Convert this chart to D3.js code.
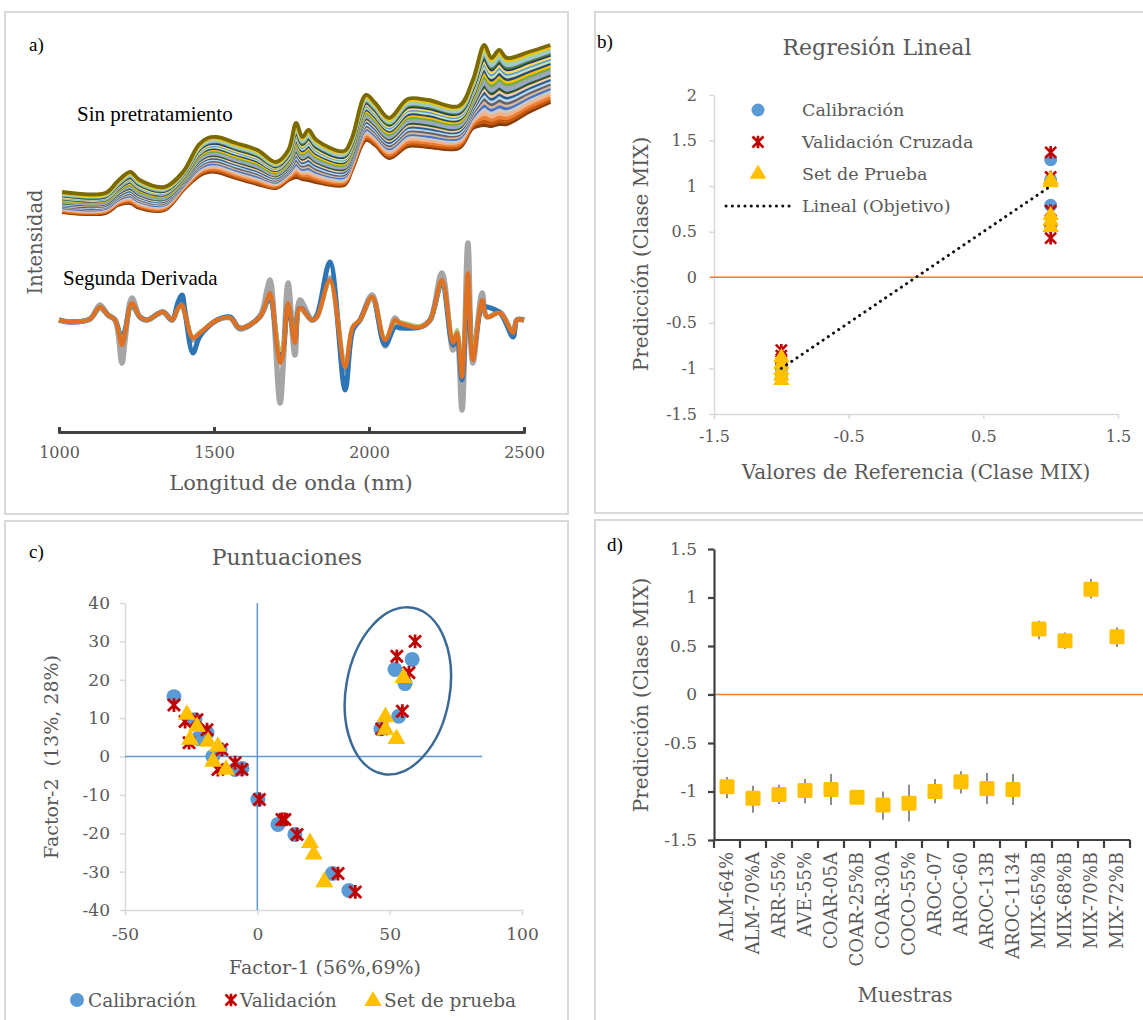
<!DOCTYPE html>
<html>
<head>
<meta charset="utf-8">
<script src="https://cdn.jsdelivr.net/npm/d3@7"></script>
<style>
  body { margin: 0; background: #fff; }
  text { font-family: "DejaVu Serif", serif; }
</style>
</head>
<body>
<div id="chart"></div>
<script>
// a) NIR spectra
let rawWavelength = [1010, 1150, 1190, 1230, 1260, 1340, 1400, 1450, 1480, 1510, 1570, 1640, 1700, 1740, 1765, 1785, 1805, 1830, 1920, 1945, 1990, 2020, 2065, 2125, 2190, 2290, 2335, 2372, 2395, 2420, 2445, 2515, 2585]
let rawTop = [0.28, 0.27, 0.39, 0.48, 0.40, 0.33, 0.48, 0.75, 0.82, 0.83, 0.77, 0.70, 0.58, 0.70, 0.97, 0.83, 0.90, 0.80, 0.69, 0.82, 1.25, 1.17, 1.02, 1.21, 1.20, 1.14, 1.40, 1.75, 1.62, 1.70, 1.62, 1.68, 1.75]
let rawBottom = [0.08, 0.07, 0.15, 0.17, 0.12, 0.10, 0.30, 0.44, 0.48, 0.48, 0.42, 0.36, 0.32, 0.40, 0.43, 0.41, 0.40, 0.38, 0.35, 0.50, 0.80, 0.75, 0.62, 0.74, 0.73, 0.72, 0.92, 0.95, 0.94, 0.96, 0.96, 1.08, 1.18]
// where each sample sits between the lowest and highest spectrum
let rawLevels = [0, 0.04, 0.09, 0.14, 0.19, 0.24, 0.28, 0.32, 0.36, 0.40, 0.44, 0.48, 0.52, 0.56, 0.60, 0.64, 0.68, 0.72, 0.76, 0.79, 0.83, 0.86, 0.89, 0.93, 0.97, 1]

let derivWavelength = [1000, 1035, 1100, 1132, 1158, 1181, 1203, 1213, 1235, 1261, 1284, 1335, 1365, 1384, 1397, 1406, 1432, 1455, 1510, 1552, 1584, 1648, 1671, 1681, 1713, 1723, 1739, 1761, 1777, 1816, 1832, 1874, 1923, 1948, 1971, 2010, 2052, 2084, 2100, 2165, 2197, 2235, 2271, 2284, 2300, 2319, 2335, 2365, 2381, 2423, 2465, 2477, 2500]
let derivOrange = [0, -0.02, 0.01, 0.13, 0.05, 0, -0.25, -0.13, 0.17, 0.03, 0, 0.08, 0, 0.12, 0.15, 0.07, -0.18, -0.13, 0, 0.02, -0.08, 0.03, 0.20, 0.27, -0.43, -0.33, 0.17, -0.23, 0.12, 0, 0.03, 0.40, -0.47, -0.07, 0, 0.23, -0.20, 0, -0.03, -0.07, 0, 0.40, -0.23, -0.13, -0.57, 0.47, -0.40, 0.20, 0.03, 0.07, -0.13, 0, 0]
let derivGray = [0, -0.02, 0.01, 0.15, 0.05, 0, -0.43, -0.2, 0.22, 0.03, 0, 0.08, 0, 0.12, 0.15, 0.07, -0.2, -0.14, 0, 0.02, -0.09, 0.04, 0.30, 0.40, -0.83, -0.45, 0.37, -0.35, 0.2, 0, 0.03, 0.42, -0.5, -0.08, 0, 0.25, -0.26, 0.02, -0.04, -0.07, 0, 0.47, -0.3, -0.15, -0.9, 0.77, -0.43, 0.27, 0.03, 0.08, -0.14, 0, 0]
let derivBlue = [0, -0.02, 0.01, 0.12, 0.05, 0, -0.2, -0.1, 0.15, 0.03, 0, 0.08, 0, 0.18, 0.25, 0.1, -0.33, -0.16, 0, 0.03, -0.08, 0.03, 0.18, 0.24, -0.38, -0.3, 0.15, -0.2, 0.12, 0, 0.05, 0.58, -0.7, -0.1, 0, 0.22, -0.25, -0.07, -0.08, -0.07, 0, 0.37, -0.25, -0.2, -0.6, 0.3, -0.35, 0.13, 0.13, 0.07, -0.17, 0, 0]
let derivGreen = [0, -0.02, 0.01, 0.12, 0.05, 0, -0.22, -0.12, 0.16, 0.03, 0, 0.08, 0, 0.11, 0.14, 0.07, -0.17, -0.12, 0, 0.02, -0.08, 0.03, 0.19, 0.25, -0.3, -0.25, 0.16, -0.18, 0.11, 0, 0.03, 0.38, -0.44, -0.06, 0, 0.22, -0.18, -0.02, -0.02, -0.06, 0, 0.38, -0.2, -0.1, -0.45, 0.42, -0.3, 0.18, 0.04, 0.07, -0.12, 0, 0]
let waveTicks = [1000, 1500, 2000, 2500]

// b) linear regression
let calRef = [-1, -1, -1, -1, -1, 1, 1, 1, 1]
let calPred = [-0.92, -0.97, -1.0, -1.05, -1.1, 1.29, 1.07, 0.79, 0.56]
let cvRef = [-1, -1, -1, -1, 1, 1, 1, 1, 1]
let cvPred = [-0.8, -0.86, -0.92, -1.0, 1.37, 1.1, 0.73, 0.62, 0.43]
let testRef = [-1, -1, -1, -1, -1, 1, 1, 1, 1, 1]
let testPred = [-0.88, -0.95, -1.02, -1.08, -1.13, 1.07, 1.04, 0.68, 0.62, 0.55]
let targetLine = [[-1, -1], [1, 1]]
let regLegend = ["Calibración", "Validación Cruzada", "Set de Prueba", "Lineal (Objetivo)"]

// c) scores
let calScores = [[-31.5, 15.6], [-23.6, 9.6], [-19, 6.2], [-14.1, 1.8], [-8.4, -3.4], [-5.8, -3.1], [-22.4, 4.7], [-16.8, 0], [0.2, -11.2], [7.8, -17.7], [14.2, -20.3], [28.4, -30.5], [34.6, -34.9], [52, 22.7], [58.5, 25.3], [55.8, 19], [53.4, 10.5], [46.7, 7.2]]
let cvScores = [[-31.5, 13.4], [-27.3, 9.1], [-22.8, 9.6], [-19, 7], [-25.8, 3.6], [-13.4, 1.8], [-14.9, -3.4], [-8.4, -1.6], [-5.8, -3.4], [0.8, -11.2], [9.3, -16.4], [10.4, -16.4], [15, -20.3], [30.5, -30.5], [37, -35.3], [52.7, 26.1], [59.6, 30], [57.3, 21.8], [54.8, 11.8], [47, 7.2]]
let testScores = [[-26.6, 10.9], [-22.8, 7.8], [-25.4, 4.4], [-18.6, 3.9], [-14.9, 2.6], [-16.7, -1.3], [-11.8, -3.4], [19.9, -22.5], [21.3, -25.5], [25.3, -32.7], [55.2, 20.5], [48.4, 10.3], [48.4, 7], [52.6, 4.6]]
let mixGroup = { cx: 53.1, cy: 17.1, rx: 19.6, ry: 22 }
let scoreLegend = ["Calibración", "Validación", "Set de prueba"]

// d) predictions per sample
let sampleNames = ["ALM-64%", "ALM-70%A", "ARR-55%", "AVE-55%", "COAR-05A", "COAR-25%B", "COAR-30A", "COCO-55%", "AROC-07", "AROC-60", "AROC-13B", "AROC-1134", "MIX-65%B", "MIX-68%B", "MIX-70%B", "MIX-72%B"]
let samplePred = [-0.95, -1.07, -1.03, -0.99, -0.98, -1.06, -1.14, -1.12, -1.0, -0.9, -0.97, -0.98, 0.675, 0.555, 1.085, 0.595]
let sampleLow = [-1.07, -1.22, -1.13, -1.12, -1.14, -1.1, -1.29, -1.31, -1.12, -1.02, -1.13, -1.14, 0.57, 0.47, 0.99, 0.49]
let sampleHigh = [-0.85, -0.94, -0.93, -0.87, -0.82, -1.02, -1.0, -0.93, -0.87, -0.79, -0.81, -0.82, 0.76, 0.64, 1.19, 0.69]

let svgWidth = 1143
let svgHeight = 1020
let grey = "#595959"
let blue = "#5b9bd5", red = "#c00000", gold = "#ffc000", orange = "#ed7d31"

renderFigure()

function starPath(s) {
  return `M${-s},${-s}L${s},${s}M${-s},${s}L${s},${-s}M0,${-s * 1.15}L0,${s * 1.15}`
}

function styleAxis(g, color, width, size) {
  g.select(".domain").attr("stroke", color).attr("stroke-width", width)
  g.selectAll(".tick line").attr("stroke", color).attr("stroke-width", width)
  g.selectAll(".tick text").attr("fill", grey).style("font-size", size + "px")
}

function renderFigure() {
  let svg = d3.select("#chart").append("svg")
    .attr("width", svgWidth)
    .attr("height", svgHeight)
  svg.append("rect").attr("width", svgWidth).attr("height", svgHeight).attr("fill", "#fff")
  svg.append("defs").append("filter").attr("id", "soft")
    .append("feGaussianBlur").attr("stdDeviation", 0.75)

  // panel frames
  let frames = [[5, 12, 563, 502], [595, 12, 560, 501], [5, 521, 563, 510], [595, 520, 560, 510]]
  svg.selectAll("rect.frame").data(frames).enter().append("rect")
    .attr("class", "frame")
    .attr("x", d => d[0]).attr("y", d => d[1])
    .attr("width", d => d[2]).attr("height", d => d[3])
    .attr("fill", "none").attr("stroke", "#d9d9d9").attr("stroke-width", 2)

  panelA(svg)
  panelB(svg)
  panelC(svg)
  panelD(svg)
}

function panelA(svg) {
  let g = svg.append("g")
  let xWave = d3.scaleLinear().domain([1000, 2500]).range([59, 524])
  let yRaw = d3.scaleLinear().domain([0, 2]).range([220, 20])
  let yDer = d3.scaleLinear().domain([-1, 1]).range([420, 220])

  let rawColors = ["#843c0c", "#c55a11", "#ed7d31", "#f4b183", "#c9c9c9", "#4472c4", "#d6b7a0", "#636363", "#bdd7ee", "#255e91",
    "#f8cbad", "#385723", "#8faadc", "#a5a5a5", "#70ad47", "#ffc000", "#264478", "#c5e0b4", "#5b9bd5", "#ffd966",
    "#1f3864", "#548235", "#9dc3e6", "#a9d18e", "#ffc000", "#7a6a00"]

  let rawLine = d3.line()
    .x(d => xWave(d[0])).y(d => yRaw(d[1]))
    .curve(d3.curveCatmullRom)

  let spectra = rawLevels.map(t => rawWavelength.map((w, i) => [w, rawBottom[i] + t * (rawTop[i] - rawBottom[i])]))
  g.append("g").attr("filter", "url(#soft)")
    .selectAll("path").data(spectra).enter().append("path")
      .attr("d", rawLine)
      .attr("fill", "none")
      .attr("stroke", (d, i) => rawColors[i])
      .attr("stroke-width", 3.9)
      .attr("stroke-linejoin", "round")

  let derivLine = d3.line()
    .x(d => xWave(d[0])).y(d => yDer(d[1]))
    .curve(d3.curveCatmullRom)
  let derivSeries = [
    { v: derivGray, c: "#a5a5a5", w: 5.5 },
    { v: derivBlue, c: "#2e75b6", w: 5 },
    { v: derivGreen, c: "#a9c77a", w: 4 },
    { v: derivOrange, c: "#e07020", w: 4.2 }
  ]
  g.append("g").attr("filter", "url(#soft)")
    .selectAll("path").data(derivSeries).enter().append("path")
      .attr("d", s => derivLine(derivWavelength.map((w, i) => [w, s.v[i]])))
      .attr("fill", "none")
      .attr("stroke", s => s.c)
      .attr("stroke-width", s => s.w)
      .attr("stroke-linejoin", "round")

  let ax = g.append("g")
    .attr("transform", "translate(0,432)")
    .call(d3.axisBottom(xWave).tickValues(waveTicks).tickFormat(d3.format("d")).tickSize(-5).tickSizeOuter(0))
  styleAxis(ax, "#404040", 3, 16)
  ax.select(".domain").attr("stroke-linecap", "round")
  ax.selectAll(".tick text").attr("y", 15)

  g.append("text").attr("x", 291).attr("y", 490).attr("text-anchor", "middle")
    .attr("fill", grey).style("font-size", "21px").text("Longitud de onda (nm)")
  g.append("text").attr("transform", "translate(42,242) rotate(-90)").attr("text-anchor", "middle")
    .attr("fill", grey).style("font-size", "19.5px").text("Intensidad")
  g.append("text").attr("x", 29).attr("y", 51)
    .style("font-family", "Liberation Serif").style("font-size", "19px").text("a)")
  g.append("text").attr("x", 77).attr("y", 121)
    .style("font-family", "Liberation Serif").style("font-size", "21px").text("Sin pretratamiento")
  g.append("text").attr("x", 63).attr("y", 285)
    .style("font-family", "Liberation Serif").style("font-size", "21px").text("Segunda Derivada")
}

function panelB(svg) {
  let g = svg.append("g")
  let xReg = d3.scaleLinear().domain([-1.5, 1.5]).range([714, 1118])
  let yReg = d3.scaleLinear().domain([-1.5, 2]).range([414, 95])

  let ay = g.append("g").attr("transform", "translate(714,0)")
    .call(d3.axisLeft(yReg).tickValues([-1.5, -1, -0.5, 0, 0.5, 1, 1.5, 2]).tickFormat(String).tickSize(5).tickSizeOuter(0).tickPadding(12))
  styleAxis(ay, "#d9d9d9", 1.5, 16)
  let ax = g.append("g").attr("transform", "translate(0,414)")
    .call(d3.axisBottom(xReg).tickValues([-1.5, -0.5, 0.5, 1.5]).tickFormat(String).tickSize(5).tickSizeOuter(0))
  styleAxis(ax, "#d9d9d9", 1.5, 16)
  ax.selectAll(".tick text").attr("y", 17)

  g.append("line").attr("x1", 710).attr("x2", 1143)
    .attr("y1", yReg(0)).attr("y2", yReg(0))
    .attr("stroke", orange).attr("stroke-width", 1.5)

  g.append("g").selectAll("circle").data(d3.zip(calRef, calPred)).enter().append("circle")
    .attr("cx", d => xReg(d[0])).attr("cy", d => yReg(d[1])).attr("r", 6.5).attr("fill", blue)
  g.append("g").selectAll("path").data(d3.zip(cvRef, cvPred)).enter().append("path")
    .attr("transform", d => `translate(${xReg(d[0])},${yReg(d[1])})`)
    .attr("d", starPath(5.5)).attr("stroke", red).attr("stroke-width", 2.6).attr("fill", "none")
  g.append("g").selectAll("path").data(d3.zip(testRef, testPred)).enter().append("path")
    .attr("transform", d => `translate(${xReg(d[0])},${yReg(d[1])})`)
    .attr("d", d3.symbol(d3.symbolTriangle, 120)).attr("fill", gold)

  g.append("path")
    .attr("d", d3.line().x(d => xReg(d[0])).y(d => yReg(d[1]))(targetLine))
    .attr("stroke", "#111").attr("stroke-width", 3).attr("stroke-dasharray", "0.1 6.2")
    .attr("stroke-linecap", "round").attr("fill", "none")

  // legend
  let ly = [110, 142, 174, 206]
  let leg = g.append("g")
  leg.append("circle").attr("cx", 758).attr("cy", ly[0]).attr("r", 6.5).attr("fill", blue)
  leg.append("path").attr("transform", `translate(758,${ly[1]})`).attr("d", starPath(5.5))
    .attr("stroke", red).attr("stroke-width", 2.6).attr("fill", "none")
  leg.append("path").attr("transform", `translate(758,${ly[2]})`).attr("d", d3.symbol(d3.symbolTriangle, 120)).attr("fill", gold)
  leg.append("line").attr("x1", 726).attr("x2", 790).attr("y1", ly[3]).attr("y2", ly[3])
    .attr("stroke", "#111").attr("stroke-width", 3).attr("stroke-dasharray", "0.1 6.2").attr("stroke-linecap", "round")
  leg.selectAll("text").data(regLegend).enter().append("text")
    .attr("x", 802).attr("y", (d, i) => ly[i] + 6)
    .attr("fill", grey).style("font-size", "17.5px").text(d => d)

  g.append("text").attr("x", 877).attr("y", 55).attr("text-anchor", "middle")
    .attr("fill", grey).style("font-size", "22px").text("Regresión Lineal")
  g.append("text").attr("x", 916).attr("y", 479).attr("text-anchor", "middle")
    .attr("fill", grey).style("font-size", "20px").text("Valores de Referencia (Clase MIX)")
  g.append("text").attr("transform", "translate(648,254) rotate(-90)").attr("text-anchor", "middle")
    .attr("fill", grey).style("font-size", "20px").text("Predicción (Clase MIX)")
  g.append("text").attr("x", 597).attr("y", 48)
    .style("font-family", "Liberation Serif").style("font-size", "19px").text("b)")
}

function panelC(svg) {
  let g = svg.append("g")
  let xSc = d3.scaleLinear().domain([-50, 100]).range([125, 522])
  let ySc = d3.scaleLinear().domain([-40, 40]).range([910, 603])

  let ay = g.append("g").attr("transform", "translate(125,0)")
    .call(d3.axisLeft(ySc).tickValues(d3.range(-40, 41, 10)).tickFormat(String).tickSize(5).tickSizeOuter(0).tickPadding(10))
  styleAxis(ay, "#d9d9d9", 1.5, 17)
  let ax = g.append("g").attr("transform", "translate(0,910)")
    .call(d3.axisBottom(xSc).tickValues([-50, 0, 50, 100]).tickFormat(String).tickSize(5).tickSizeOuter(0))
  styleAxis(ax, "#d9d9d9", 1.5, 17)
  ax.selectAll(".tick text").attr("y", 18)

  g.append("line").attr("x1", xSc(0)).attr("x2", xSc(0)).attr("y1", ySc(40)).attr("y2", ySc(-40))
    .attr("stroke", blue).attr("stroke-width", 1.5)
  g.append("line").attr("x1", xSc(-50)).attr("x2", xSc(85)).attr("y1", ySc(0)).attr("y2", ySc(0))
    .attr("stroke", blue).attr("stroke-width", 1.5)

  g.append("g").selectAll("circle").data(calScores).enter().append("circle")
    .attr("cx", d => xSc(d[0])).attr("cy", d => ySc(d[1])).attr("r", 7.5).attr("fill", blue)
  g.append("g").selectAll("path").data(cvScores).enter().append("path")
    .attr("transform", d => `translate(${xSc(d[0])},${ySc(d[1])})`)
    .attr("d", starPath(6)).attr("stroke", red).attr("stroke-width", 2.8).attr("fill", "none")
  g.append("g").selectAll("path").data(testScores).enter().append("path")
    .attr("transform", d => `translate(${xSc(d[0])},${ySc(d[1])})`)
    .attr("d", d3.symbol(d3.symbolTriangle, 140)).attr("fill", gold)

  let ex = xSc(mixGroup.cx), ey = ySc(mixGroup.cy)
  g.append("ellipse")
    .attr("transform", `translate(${ex},${ey}) rotate(10)`)
    .attr("rx", xSc(mixGroup.rx) - xSc(0)).attr("ry", ySc(0) - ySc(mixGroup.ry))
    .attr("fill", "none").attr("stroke", "#3b6a96").attr("stroke-width", 2.5)

  // legend
  let leg = g.append("g")
  leg.append("circle").attr("cx", 77).attr("cy", 1000).attr("r", 7).attr("fill", blue)
  leg.append("path").attr("transform", "translate(231,1000)").attr("d", starPath(5.5))
    .attr("stroke", red).attr("stroke-width", 2.6).attr("fill", "none")
  leg.append("path").attr("transform", "translate(373,1001)").attr("d", d3.symbol(d3.symbolTriangle, 130)).attr("fill", gold)
  let lx = [88, 240, 384]
  leg.selectAll("text").data(scoreLegend).enter().append("text")
    .attr("x", (d, i) => lx[i]).attr("y", 1007)
    .attr("fill", grey).style("font-size", "18.5px").text(d => d)

  g.append("text").attr("x", 287).attr("y", 565).attr("text-anchor", "middle")
    .attr("fill", grey).style("font-size", "22px").text("Puntuaciones")
  g.append("text").attr("x", 325).attr("y", 974).attr("text-anchor", "middle")
    .attr("fill", grey).style("font-size", "19px").text("Factor-1 (56%,69%)")
  g.append("text").attr("transform", "translate(58,757) rotate(-90)").attr("text-anchor", "middle")
    .attr("fill", grey).style("font-size", "19px").style("white-space", "pre").text("Factor-2  (13%, 28%)")
  g.append("text").attr("x", 29).attr("y", 558)
    .style("font-family", "Liberation Serif").style("font-size", "19px").text("c)")
}

function panelD(svg) {
  let g = svg.append("g")
  let xS = d3.scaleBand().domain(sampleNames).range([714, 1130])
  let ySm = d3.scaleLinear().domain([-1.5, 1.5]).range([840, 549])

  g.append("line").attr("x1", 710).attr("x2", 1143).attr("y1", ySm(0)).attr("y2", ySm(0))
    .attr("stroke", orange).attr("stroke-width", 1.5)

  let ay = g.append("g").attr("transform", "translate(714,0)")
    .call(d3.axisLeft(ySm).tickValues([-1.5, -1, -0.5, 0, 0.5, 1, 1.5]).tickFormat(String).tickSize(6).tickSizeOuter(0).tickPadding(11))
  styleAxis(ay, "#404040", 2.2, 17)

  let ax = g.append("g").attr("transform", "translate(0,840)")
  ax.append("line").attr("x1", 714).attr("x2", 1130).attr("stroke", "#404040").attr("stroke-width", 2.2)
  let bounds = sampleNames.map(n => xS(n)).concat([xS.range()[1]])
  ax.selectAll("line.tk").data(bounds).enter().append("line").attr("class", "tk")
    .attr("x1", d => d).attr("x2", d => d).attr("y1", 0).attr("y2", 8)
    .attr("stroke", "#404040").attr("stroke-width", 2.2)
  ax.selectAll("text").data(sampleNames).enter().append("text")
    .attr("transform", d => `translate(${xS(d) + xS.bandwidth() / 2 + 6},12) rotate(-90)`)
    .attr("text-anchor", "end").attr("fill", grey).style("font-size", "18px").text(d => d)

  let rows = sampleNames.map((n, i) => ({ n, p: samplePred[i], lo: sampleLow[i], hi: sampleHigh[i] }))
  g.append("g").selectAll("line").data(rows).enter().append("line")
    .attr("x1", d => xS(d.n) + xS.bandwidth() / 2).attr("x2", d => xS(d.n) + xS.bandwidth() / 2)
    .attr("y1", d => ySm(d.lo)).attr("y2", d => ySm(d.hi))
    .attr("stroke", "#404040").attr("stroke-width", 1.2)
  g.append("g").selectAll("rect").data(rows).enter().append("rect")
    .attr("x", d => xS(d.n) + xS.bandwidth() / 2 - 7.5).attr("y", d => ySm(d.p) - 7.5)
    .attr("width", 15).attr("height", 15).attr("rx", 1.5).attr("fill", gold)

  g.append("text").attr("x", 905).attr("y", 1002).attr("text-anchor", "middle")
    .attr("fill", grey).style("font-size", "20px").text("Muestras")
  g.append("text").attr("transform", "translate(648,695) rotate(-90)").attr("text-anchor", "middle")
    .attr("fill", grey).style("font-size", "20px").text("Predicción (Clase MIX)")
  g.append("text").attr("x", 607).attr("y", 551)
    .style("font-family", "Liberation Serif").style("font-size", "19px").text("d)")
}
</script>
</body>
</html>
